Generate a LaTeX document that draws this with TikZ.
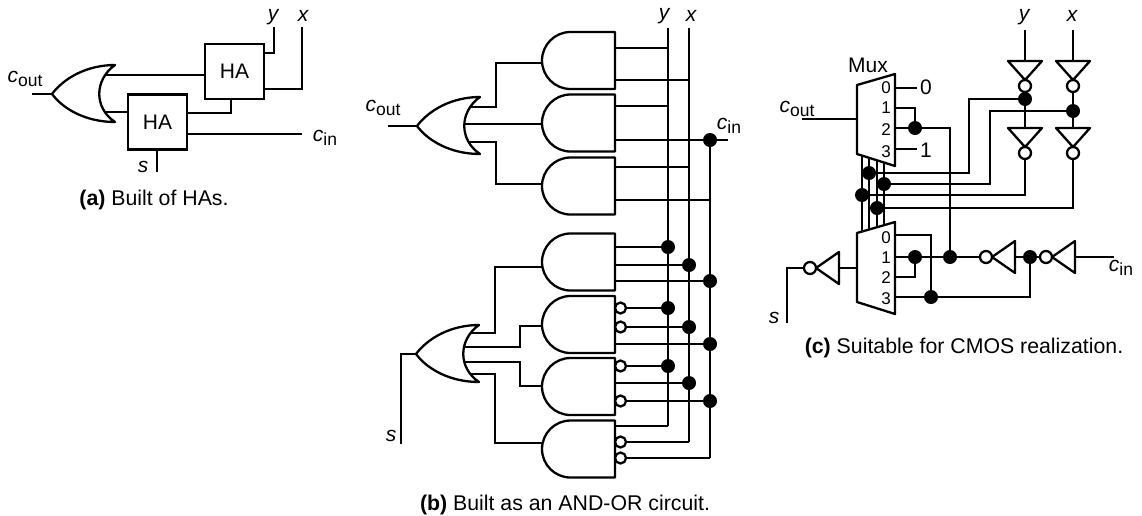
\documentclass[tikz,border=0pt]{standalone}
\usepackage{fontspec}
\setmainfont{Liberation Sans}
\newcommand\subtx[1]{\raisebox{-0.35ex}{\fontsize{17.5}{17.5}\selectfont #1}}
\tikzset{
  w/.style={line width=2.3pt},
  gate/.style={line width=2.3pt, fill=white, line join=round},
  lab/.style={inner sep=0pt, font=\fontsize{21}{25}\selectfont},
  itl/.style={inner sep=0pt, font=\fontsize{21}{25}\selectfont\itshape},
  capt/.style={inner sep=0pt, font=\fontsize{21.3}{25}\selectfont},
  dig/.style={inner sep=0pt, font=\fontsize{17}{19}\selectfont},
  habox/.style={draw, line width=2.3pt, fill=white, minimum width=59pt, minimum height=55pt, inner sep=0pt, font=\fontsize{21}{25}\selectfont},
  orL/.pic={\draw[gate] (63,-29) .. controls (35,-29) and (12,-16) .. (0,0) .. controls (12,16) and (35,28) .. (63,28) .. controls (42,14) and (42,-14) .. (63,-29) -- cycle;},
  andL/.pic={\draw[gate] (73,-28.5) -- (28.5,-28.5) .. controls (12.8,-28.5) and (0,-15.7) .. (0,0) .. controls (0,15.7) and (12.8,28.5) .. (28.5,28.5) -- (73,28.5) -- cycle;},
  invD/.pic={\draw[gate] (-17,0) -- (17,0) -- (0,19) -- cycle; \draw[gate] (0,25) circle[radius=6pt];},
  invL/.pic={\draw[gate] (0,-16) -- (0,16) -- (-23,0) -- cycle; \draw[gate] (-29,0) circle[radius=6pt];},
  bub/.style={gate},
  dot/.style={fill=black},
}
\begin{document}
\begin{tikzpicture}[x=1pt,y=-1pt]
\useasboundingbox (0,0) rectangle (1142,515);

% ================= (a) =================
\draw[w] (32,94) -- (52,94);
\draw[w] (95,75) -- (205,75);
\draw[w] (95,112) -- (128,112);
\draw[w] (264,53) -| (274,27);
\draw[w] (264,89) -| (302,27);
\draw[w] (187,113) -| (231,99);
\draw[w] (187,134) -- (302,134);
\draw[w] (157,149) -- (157,172);
\pic at (52,94) {orL};
\node[habox] (ha1) at (234.5,71.5) {HA};
\node[habox] (ha2) at (157.5,122) {HA};
\node[lab] (acout) at (25,79) {\textit{c}\subtx{out}};
\node[itl] (ay) at (273,17) {y};
\node[itl] (ax) at (303,16) {x};
\node[lab] (acin) at (325,138) {\textit{c}\subtx{in}};
\node[itl] (as) at (143,167) {s};
\node[capt] (acap) at (154,200) {\textbf{(a)} Built of HAs.};

% ================= (b) =================
\draw[w] (388,126) -- (417,126);
\draw[w] (460,107) -| (496,62.7) -- (555,62.7);
\draw[w] (460,124) -- (555,124);
\draw[w] (460,142) -| (496,184.3) -- (555,184.3);
\draw[w] (463,333) -| (495,266.7) -- (555,266.7);
\draw[w] (463,347) -| (520,326) -- (555,326);
\draw[w] (463,362) -| (520,385.7) -- (555,385.7);
\draw[w] (463,374) -| (495,442.7) -- (555,442.7);
\draw[w] (416,354) -| (401,444);
% input buses
\draw[w] (668,28) -- (668,426);
\draw[w] (689,28) -- (689,442);
\draw[w] (710,140) -- (710,458);
% gate inputs
\draw[w] (605,48) -- (668,48);
\draw[w] (605,80) -- (689,80);
\draw[w] (605,106) -- (668,106);
\draw[w] (605,140) -- (728,140);
\draw[w] (605,167) -- (689,167);
\draw[w] (605,200) -- (710,200);
\draw[w] (605,247) -- (668,247);
\draw[w] (605,265) -- (689,265);
\draw[w] (605,281) -- (710,281);
\draw[w] (605,308) -- (668,308);
\draw[w] (605,327) -- (689,327);
\draw[w] (605,344) -- (710,344);
\draw[w] (605,366) -- (668,366);
\draw[w] (605,383) -- (689,383);
\draw[w] (605,401) -- (710,401);
\draw[w] (605,426) -- (668,426);
\draw[w] (605,442) -- (689,442);
\draw[w] (605,458) -- (710,458);
% gates
\pic at (417,126) {orL};
\pic at (416,354) {orL};
\pic at (542,60.5) {andL};
\pic at (542,123) {andL};
\pic at (542,186) {andL};
\pic at (542,262) {andL};
\pic at (542,324.5) {andL};
\pic at (542,386.5) {andL};
\pic at (542,449) {andL};
% bubbles
\foreach \yy in {308,327,366,401,442,458} \draw[bub] (620.5,\yy) circle[radius=5.5pt];
% dots
\foreach \xx/\yy in {710/140,668/247,689/265,710/281,668/308,689/327,710/344,668/366,689/383,710/401}
  \fill[dot] (\xx,\yy) circle[radius=7pt];
\node[lab] (bcout) at (383,108) {\textit{c}\subtx{out}};
\node[itl] (by) at (664,16) {y};
\node[itl] (bx) at (691,16) {x};
\node[lab] (bcin) at (729,126) {\textit{c}\subtx{in}};
\node[itl] (bs) at (391,436) {s};
\node[capt] (bcap) at (565,505) {\textbf{(b)} Built as an AND-OR circuit.};

% ================= (c) =================
\draw[w] (802,119) -- (857,119);
\draw[w] (895,88) -- (917,88);
\draw[w] (895,108) -| (915,128);
\draw[w] (895,128) -| (950,257);
\draw[w] (895,149) -- (917,149);
% select bundle
\foreach \xx in {862,869,877,884} \draw[w] (\xx,150) -- (\xx,240);
% inverter chains
\draw[w] (1025,30) -- (1025,195) -- (862,195);
\draw[w] (1073,30) -- (1073,208) -- (877,208);
\draw[w] (1025,99) -| (969,173) -- (869,173);
\draw[w] (1073,111) -| (990,184) -- (884,184);
% lower mux wires
\draw[w] (895,235) -| (931,297);
\draw[w] (895,257) -- (980,257);
\draw[w] (895,277) -| (915,257);
\draw[w] (895,297) -| (1030,257);
\draw[w] (1015,257) -- (1040,257);
\draw[w] (1075,257) -- (1114,257);
\draw[w] (857,268) -- (839,268);
\draw[w] (805,268) -| (787,323);
% muxes
\draw[gate] (857,85) -- (895,74) -- (895,166) -- (857,154) -- cycle;
\draw[gate] (857,233) -- (895,222) -- (895,314) -- (857,302) -- cycle;
% inverters
\pic at (1025,61) {invD};
\pic at (1025,128) {invD};
\pic at (1073,61) {invD};
\pic at (1073,128) {invD};
\pic at (1015,257) {invL};
\pic at (1075,257) {invL};
\pic at (839,268) {invL};
% dots
\foreach \xx/\yy in {915/128,950/257,1025/99,1073/111,869/173,884/184,862/195,877/208,915/257,931/297,1030/257}
  \fill[dot] (\xx,\yy) circle[radius=7pt];
% labels
\node[lab] (mux) at (868,65) {Mux};
\foreach \yy/\dd in {88/0,108/1,130/2,152/3} \node[dig] at (886,\yy) {\dd};
\foreach \yy/\dd in {237.5/0,257.5/1,278/2,298.5/3} \node[dig] at (886,\yy) {\dd};
\node[lab] (c0) at (926,87) {0};
\node[lab] (c1) at (926,150) {1};
\node[lab] (ccout) at (797,109) {\textit{c}\subtx{out}};
\node[itl] (cy) at (1024,17) {y};
\node[itl] (cx) at (1072,16) {x};
\node[lab] (ccin) at (1121,268) {\textit{c}\subtx{in}};
\node[itl] (cs) at (774,318) {s};
\node[capt] (ccap) at (964,348) {\textbf{(c)} Suitable for CMOS realization.};
\end{tikzpicture}
\end{document}
